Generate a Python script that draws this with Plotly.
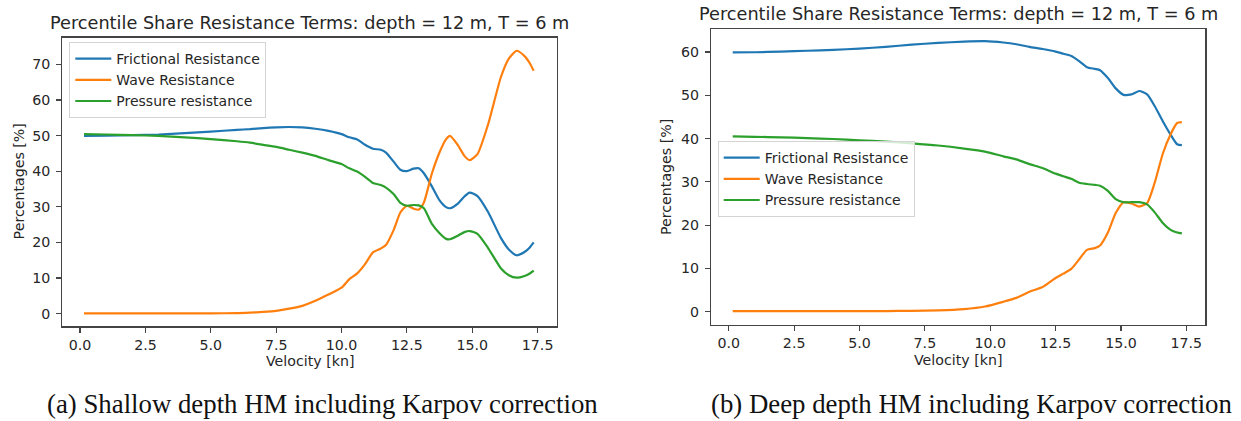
import plotly.graph_objects as go

# ---------------- data ----------------
title_text = "Percentile Share Resistance Terms: depth = 12 m, T = 6 m"
series_names = ["Frictional Resistance", "Wave Resistance", "Pressure resistance"]
series_colors = ["#1f77b4", "#ff7f0e", "#2ca02c"]
captions = ["(a) Shallow depth HM including Karpov correction",
            "(b) Deep depth HM including Karpov correction"]
x_ticks = [0.0, 2.5, 5.0, 7.5, 10.0, 12.5, 15.0, 17.5]

v_shallow = [0.15, 1.0, 2.0, 3.0, 4.0, 5.0, 6.0, 6.5, 7.0, 7.5, 8.0, 8.5, 9.0, 9.5,
             10.0, 10.3, 10.6, 10.9, 11.2, 11.5, 11.7, 12.0, 12.25, 12.5, 12.75,
             12.95, 13.15, 13.45, 13.75, 14.0, 14.15, 14.45, 14.7, 14.9, 15.2, 15.6,
             16.1, 16.4, 16.7, 17.0, 17.2, 17.35]
fric_shallow = [49.9, 50.0, 50.1, 50.3, 50.7, 51.1, 51.6, 51.8, 52.1, 52.3, 52.4, 52.3,
                51.9, 51.3, 50.4, 49.5, 48.9, 47.4, 46.3, 46.0, 45.2, 42.6, 40.4, 40.0,
                40.7, 40.8, 39.4, 35.8, 31.8, 29.9, 29.6, 30.9, 32.9, 34.0, 33.0, 28.6,
                21.2, 18.0, 16.4, 17.3, 18.6, 20.0]
wave_shallow = [0.1, 0.1, 0.1, 0.1, 0.1, 0.1, 0.15, 0.3, 0.5, 0.8, 1.4, 2.2, 3.6, 5.4,
                7.3, 9.7, 11.3, 13.9, 17.2, 18.3, 19.3, 23.6, 28.4, 30.3, 29.5, 29.2,
                31.2, 39.2, 45.3, 49.0, 49.9, 47.3, 44.3, 43.1, 44.8, 53.0, 66.5, 71.6,
                73.8, 72.3, 70.3, 68.2]
pres_shallow = [50.4, 50.3, 50.1, 49.9, 49.5, 49.0, 48.4, 48.0, 47.4, 46.8, 46.0, 45.2,
                44.3, 43.1, 42.0, 40.8, 39.9, 38.4, 36.7, 36.1, 35.4, 33.5, 31.1, 30.3,
                30.5, 30.4, 29.6, 25.3, 22.6, 21.0, 20.9, 21.9, 22.9, 23.2, 22.4, 18.5,
                12.7, 10.8, 10.1, 10.6, 11.3, 12.1]

v_deep = [0.15, 1.0, 2.0, 3.0, 4.0, 5.0, 6.0, 7.0, 8.0, 9.0, 9.8, 10.5, 11.0, 11.5,
          12.0, 12.5, 12.8, 13.1, 13.4, 13.7, 14.0, 14.2, 14.5, 14.8, 15.1, 15.4,
          15.7, 16.0, 16.3, 16.6, 16.9, 17.15, 17.33]
fric_deep = [59.9, 59.95, 60.1, 60.3, 60.5, 60.8, 61.2, 61.7, 62.1, 62.4, 62.5, 62.2,
             61.8, 61.2, 60.7, 60.1, 59.6, 59.1, 57.9, 56.5, 56.1, 55.8, 54.0, 51.6,
             50.1, 50.2, 51.0, 50.2, 47.4, 44.0, 40.9, 38.7, 38.5]
wave_deep = [0.15, 0.15, 0.15, 0.15, 0.15, 0.15, 0.15, 0.2, 0.3, 0.6, 1.2, 2.3, 3.2,
             4.6, 5.7, 7.8, 8.8, 9.9, 12.1, 14.3, 14.7, 15.3, 18.3, 22.8, 25.3, 25.0,
             24.3, 25.1, 30.0, 36.5, 41.0, 43.6, 43.8]
pres_deep = [40.5, 40.4, 40.3, 40.1, 39.9, 39.6, 39.3, 38.9, 38.4, 37.7, 37.0, 35.9,
             35.2, 34.1, 33.2, 31.9, 31.3, 30.7, 29.8, 29.5, 29.3, 29.1, 27.9, 26.0,
             25.3, 25.3, 25.3, 24.8, 22.9, 20.5, 18.9, 18.3, 18.1]

# ---------------- figure ----------------
W, H = 1241, 421
FONT = "DejaVu Sans"
TXT = "#262626"
fig = go.Figure()

panels = [
    dict(v=v_shallow, ys=[fric_shallow, wave_shallow, pres_shallow], xa="x", ya="y", leg="legend"),
    dict(v=v_deep, ys=[fric_deep, wave_deep, pres_deep], xa="x2", ya="y2", leg="legend2"),
]
for p in panels:
    for name, col, yv in zip(series_names, series_colors, p["ys"]):
        fig.add_trace(go.Scatter(
            x=p["v"], y=yv, name=name, mode="lines",
            line=dict(color=col, width=2.2, shape="spline", smoothing=0.6),
            xaxis=p["xa"], yaxis=p["ya"], legend=p["leg"], showlegend=True))

def px_x(px):
    return px / W

def px_y(py):
    return 1 - py / H

axis_common = dict(showgrid=False, zeroline=False, showline=True, mirror=True,
                   linecolor="#444444", linewidth=1.2, ticks="outside", ticklen=5,
                   tickwidth=1.2, tickcolor="#444444",
                   tickfont=dict(family=FONT, size=14.2, color=TXT))

legend_common = dict(xanchor="left", yanchor="top", itemwidth=36,
                     bgcolor="rgba(255,255,255,0.8)", bordercolor="#d4d4d4", borderwidth=1,
                     font=dict(family=FONT, size=14, color=TXT))

# left panel box: x 62.3..556.7, y 37.5..326.3
# right panel box: x 711..1205.4, y 29..325
fig.update_layout(
    width=W, height=H,
    margin=dict(l=0, r=0, t=0, b=0),
    paper_bgcolor="white", plot_bgcolor="white",
    xaxis=dict(domain=[px_x(62.3), px_x(556.7)], range=[-0.68, 18.23],
               tickvals=x_ticks, tickformat=".1f", anchor="y", **axis_common),
    yaxis=dict(domain=[px_y(326.3), px_y(37.5)], range=[-3.54, 77.52],
               tick0=0, dtick=10, anchor="x", ticklabelstandoff=3, **axis_common),
    xaxis2=dict(domain=[px_x(711), px_x(1205.4)], range=[-0.68, 18.23],
                tickvals=x_ticks, tickformat=".1f", anchor="y2", **axis_common),
    yaxis2=dict(domain=[px_y(325), px_y(29)], range=[-3.07, 65.32],
                tick0=0, dtick=10, anchor="x2", ticklabelstandoff=3, **axis_common),
    legend=dict(x=px_x(69.3), y=px_y(42), **legend_common),
    legend2=dict(x=px_x(717.7), y=px_y(141), **legend_common),
)

annotations = []
# titles
for cx, cy in [((62.3 + 556.7) / 2, 22.6), ((711 + 1205.4) / 2, 14.1)]:
    annotations.append(dict(text=title_text, x=px_x(cx), y=px_y(cy), xref="paper", yref="paper",
                            xanchor="center", yanchor="middle", showarrow=False,
                            font=dict(family=FONT, size=17.7, color=TXT)))
# x-axis titles
for cx, cy in [((62.3 + 556.7) / 2, 361), ((711 + 1205.4) / 2, 360)]:
    annotations.append(dict(text="Velocity [kn]", x=px_x(cx), y=px_y(cy), xref="paper", yref="paper",
                            xanchor="center", yanchor="middle", showarrow=False,
                            font=dict(family=FONT, size=14.2, color=TXT)))
# y-axis titles
for cx, cy in [(18.5, (37.5 + 326.3) / 2), (666, (29 + 325) / 2)]:
    annotations.append(dict(text="Percentages [%]", x=px_x(cx), y=px_y(cy), xref="paper", yref="paper",
                            xanchor="center", yanchor="middle", textangle=-90, showarrow=False,
                            font=dict(family=FONT, size=14.2, color=TXT)))
# captions
for txt, cx in zip(captions, [322, 971]):
    annotations.append(dict(text=txt, x=px_x(cx), y=px_y(404), xref="paper", yref="paper",
                            xanchor="center", yanchor="middle", showarrow=False,
                            font=dict(family="Liberation Serif", size=26.8, color="#111111")))
fig.update_layout(annotations=annotations)

fig.write_html("out.html",
               config={"displayModeBar": False, "staticPlot": True},
               post_script="document.body.style.margin='0';document.body.style.overflow='hidden';")
